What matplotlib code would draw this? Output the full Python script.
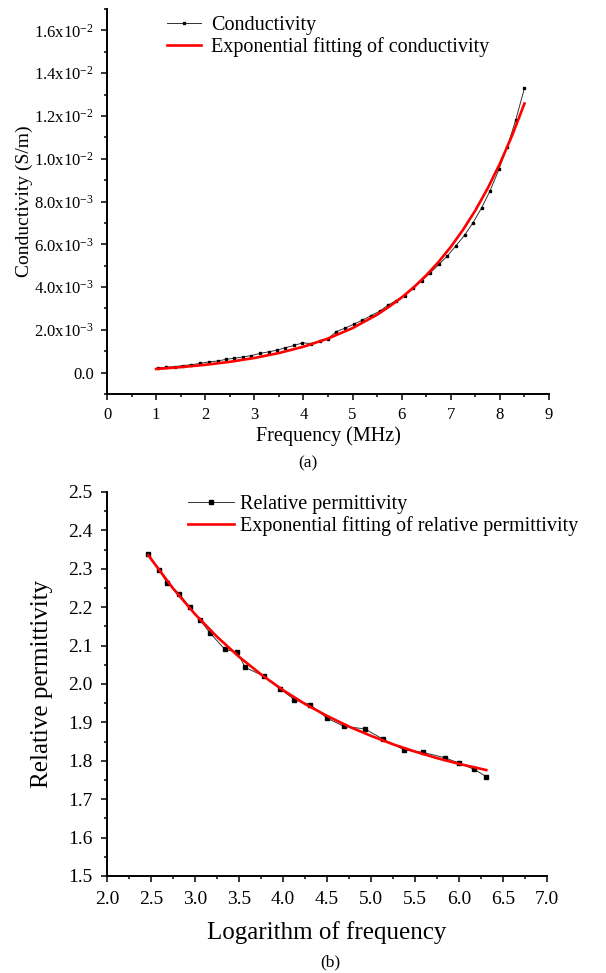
import matplotlib

matplotlib.use("Agg")
import matplotlib.pyplot as plt
from matplotlib.ticker import FixedLocator, MultipleLocator

plt.rcParams["font.family"] = ["Liberation Serif", "DejaVu Serif"]
plt.rcParams["mathtext.fontset"] = "custom"
plt.rcParams["mathtext.rm"] = "Liberation Serif"
plt.rcParams["mathtext.it"] = "Liberation Serif:italic"

# (a) conductivity (S/m)
freq_mhz = [
    1.03, 1.20, 1.38, 1.55, 1.72, 1.90, 2.07, 2.25, 2.42, 2.59, 2.76,
    2.94, 3.12, 3.29, 3.46, 3.63, 3.81, 3.98, 4.16, 4.33, 4.50, 4.67,
    4.85, 5.03, 5.20, 5.37, 5.55, 5.72, 5.89, 6.06, 6.23, 6.41, 6.58,
    6.76, 6.93, 7.10, 7.28, 7.45, 7.63, 7.80, 7.98, 8.15, 8.32, 8.50,
]
conductivity = [
    0.22e-3, 0.25e-3, 0.28e-3, 0.33e-3, 0.37e-3, 0.43e-3, 0.50e-3,
    0.54e-3, 0.62e-3, 0.67e-3, 0.73e-3, 0.80e-3, 0.90e-3, 0.97e-3,
    1.05e-3, 1.16e-3, 1.27e-3, 1.39e-3, 1.36e-3, 1.47e-3, 1.59e-3,
    1.92e-3, 2.08e-3, 2.27e-3, 2.45e-3, 2.66e-3, 2.87e-3, 3.15e-3,
    3.37e-3, 3.59e-3, 3.94e-3, 4.30e-3, 4.66e-3, 5.06e-3, 5.45e-3,
    5.92e-3, 6.42e-3, 7.00e-3, 7.71e-3, 8.50e-3, 9.50e-3, 10.55e-3,
    11.79e-3, 13.30e-3,
]
fit_freq_mhz = [
    1.0, 1.5, 2.0, 2.5, 3.0, 3.5, 4.0, 4.5, 5.0, 5.5, 5.75, 6.0, 6.25,
    6.5, 6.75, 7.0, 7.25, 7.5, 7.75, 8.0, 8.25, 8.5,
]
fit_conductivity = [
    0.17e-3, 0.255e-3, 0.364e-3, 0.504e-3, 0.684e-3, 0.915e-3,
    1.211e-3, 1.592e-3, 2.08e-3, 2.708e-3, 3.09e-3, 3.513e-3, 3.997e-3,
    4.547e-3, 5.17e-3, 5.878e-3, 6.68e-3, 7.582e-3, 8.61e-3, 9.774e-3,
    11.09e-3, 12.58e-3,
]
cond_ticks = [0.0, 2e-3, 4e-3, 6e-3, 8e-3, 1e-2, 1.2e-2, 1.4e-2, 1.6e-2]
cond_tick_labels = [
    "0.0",
    "2.0x10$^{-3}$", "4.0x10$^{-3}$", "6.0x10$^{-3}$", "8.0x10$^{-3}$",
    "1.0x10$^{-2}$", "1.2x10$^{-2}$", "1.4x10$^{-2}$", "1.6x10$^{-2}$",
]

# (b) relative permittivity against log of frequency
log_freq = [
    2.47, 2.59, 2.68, 2.82, 2.94, 3.06, 3.17, 3.34, 3.48, 3.57, 3.78,
    3.97, 4.13, 4.31, 4.50, 4.69, 4.93, 5.14, 5.38, 5.59, 5.84, 6.00,
    6.17, 6.31,
]
permittivity = [
    2.339, 2.298, 2.264, 2.235, 2.200, 2.166, 2.133, 2.090, 2.083,
    2.043, 2.021, 1.987, 1.959, 1.946, 1.911, 1.890, 1.883, 1.856,
    1.828, 1.822, 1.808, 1.794, 1.778, 1.759,
]
fit_log_freq = [
    2.47, 2.75, 3.0, 3.25, 3.5, 3.75, 4.0, 4.25, 4.5, 4.75, 5.0, 5.25,
    5.5, 5.75, 6.0, 6.31,
]
fit_permittivity = [
    2.335, 2.249, 2.182, 2.123, 2.071, 2.025, 1.984, 1.948, 1.917,
    1.889, 1.865, 1.843, 1.824, 1.807, 1.792, 1.776,
]

W, H = 606, 973
fig = plt.figure(figsize=(W / 100, H / 100), dpi=100)


def _frame(left, top, right, bottom):
    return fig.add_axes(
        [left / W, 1 - bottom / H, (right - left) / W, (bottom - top) / H]
    )


def _style(ax, size, pad):
    for side in ("top", "right"):
        ax.spines[side].set_visible(False)
    for side in ("left", "bottom"):
        ax.spines[side].set_linewidth(1.4)
    ax.tick_params(which="major", direction="out", length=4.5, width=1.1,
                   labelsize=size, pad=pad)
    ax.tick_params(which="minor", direction="out", length=2.5, width=1.1)


ax1 = _frame(107, 9, 549, 394)
ax1.plot(freq_mhz, conductivity, color="#333333", linewidth=0.7,
         marker="s", markersize=2.0, markerfacecolor="black",
         markeredgecolor="black", label="Conductivity")
ax1.plot(fit_freq_mhz, fit_conductivity, color="#ff0000", linewidth=1.9,
         label="Exponential fitting of conductivity")
ax1.set_xlim(0, 9)
ax1.set_ylim(-1e-3, 1.7e-2)
ax1.xaxis.set_major_locator(MultipleLocator(1))
ax1.xaxis.set_minor_locator(MultipleLocator(0.5))
ax1.yaxis.set_major_locator(FixedLocator(cond_ticks))
ax1.yaxis.set_minor_locator(MultipleLocator(1e-3))
ax1.set_yticklabels(cond_tick_labels)
_style(ax1, 12, 5)
ax1.set_xlabel("Frequency (MHz)", fontsize=14.5, labelpad=2)
ax1.set_ylabel("Conductivity (S/m)", fontsize=14, labelpad=1)
ax1.legend(loc="upper left", bbox_to_anchor=(167 / W, 1 - 16 / H),
           bbox_transform=fig.transFigure, frameon=False, fontsize=14.5,
           handlelength=1.7, handletextpad=0.5, labelspacing=0.1,
           borderpad=0, borderaxespad=0)

ax2 = _frame(107, 492, 547, 876)
ax2.plot(log_freq, permittivity, color="#333333", linewidth=0.7,
         marker="s", markersize=2.3, markerfacecolor="black",
         markeredgecolor="black", label="Relative permittivity")
ax2.plot(fit_log_freq, fit_permittivity, color="#ff0000", linewidth=1.9,
         label="Exponential fitting of relative permittivity")
ax2.set_xlim(2.0, 7.0)
ax2.set_ylim(1.5, 2.5)
ax2.xaxis.set_major_locator(MultipleLocator(0.5))
ax2.xaxis.set_minor_locator(MultipleLocator(0.25))
ax2.yaxis.set_major_locator(MultipleLocator(0.1))
ax2.yaxis.set_minor_locator(MultipleLocator(0.05))
ax2.xaxis.set_major_formatter("{x:.1f}")
ax2.yaxis.set_major_formatter("{x:.1f}")
_style(ax2, 14, 6)
ax2.set_xlabel("Logarithm of frequency", fontsize=18, labelpad=10)
ax2.set_ylabel("Relative permittivity", fontsize=18, labelpad=11)
ax2.legend(loc="upper left", bbox_to_anchor=(188 / W, 1 - 495 / H),
           bbox_transform=fig.transFigure, frameon=False, fontsize=14.5,
           handlelength=2.3, handletextpad=0.3, labelspacing=0.1,
           borderpad=0, borderaxespad=0)

fig.text(308 / W, 1 - 463 / H, "(a)", ha="center", va="center",
         fontsize=12.5)
fig.text(330 / W, 1 - 962 / H, "(b)", ha="center", va="center",
         fontsize=12.5)

fig.savefig("out.png", dpi=100)
plt.close(fig)
